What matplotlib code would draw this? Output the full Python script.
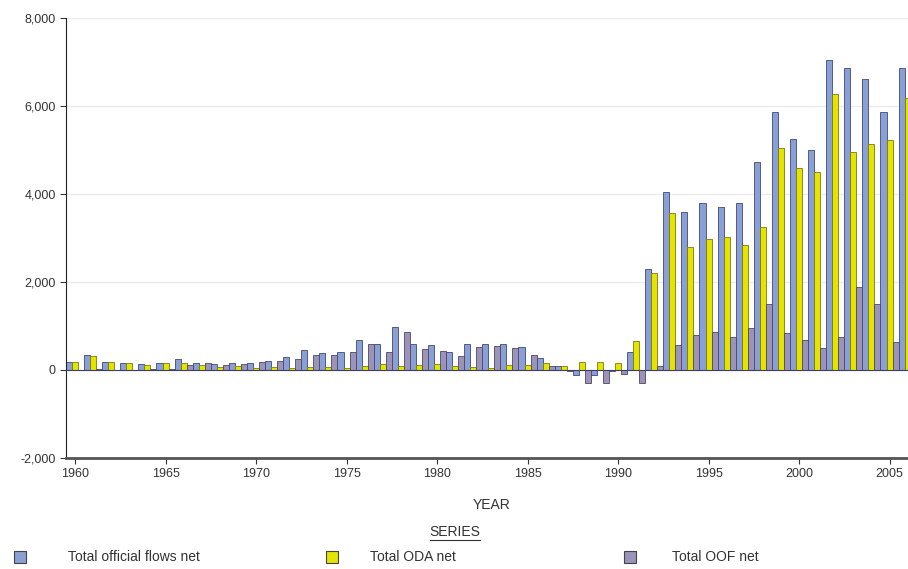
import matplotlib
matplotlib.use("Agg")
import matplotlib.pyplot as plt
from matplotlib.patches import Rectangle
from matplotlib.lines import Line2D

plt.rcParams['font.family'] = ['Liberation Sans', 'DejaVu Sans']

# datos (millones)
years = list(range(1960, 2007))
official_flows = [175, 340, 180, 165, 135, 170, 260, 160, 140, 160,
                  170, 200, 300, 460, 380, 420, 680, 580, 980, 600,
                  560, 420, 590, 590, 600, 520, 265, 80, -110, -110,
                  -30, 410, 2300, 4050, 3580, 3790, 3710, 3800, 4730, 5870,
                  5250, 4990, 7050, 6860, 6610, 5870, 6860]
oda = [190, 320, 175, 160, 115, 150, 150, 105, 75, 90,
       50, 60, 50, 70, 60, 40, 90, 130, 100, 110,
       130, 100, 60, 40, 110, 120, 150, 100, 190, 190,
       160, 670, 2200, 3560, 2800, 2970, 3020, 2840, 3260, 5050,
       4600, 4510, 6270, 4960, 5140, 5230, 6180]
oof = [10, 20, 10, 10, 20, 15, 110, 150, 110, 130,
       180, 200, 260, 340, 330, 400, 590, 420, 870, 470,
       430, 320, 530, 550, 490, 340, 90, -30, -300, -300,
       -80, -300, 80, 570, 795, 870, 760, 950, 1510, 850,
       680, 500, 760, 1890, 1510, 640, 620]

series_names = ['Total official flows net', 'Total ODA net', 'Total OOF net']
colores = ['#8a9fd6', '#e4e400', '#9c94b8']
bordes = ['#3c4a78', '#7a7a10', '#4e4860']

fig = plt.figure(figsize=(9.08, 5.69), dpi=100)
ax = fig.add_axes([66 / 908, 1 - 458 / 569, 1 - 66 / 908, 440 / 569])

w = 1 / 3
for i, vals in enumerate([official_flows, oda, oof]):
    xs = [y + (i - 1) * w for y in years]
    ax.bar(xs, vals, width=w, color=colores[i], edgecolor=bordes[i], linewidth=0.6)

ax.axhline(0, color='#3c4060', linewidth=0.8, zorder=3)

ax.set_xlim(1959.5, 2006.02)
ax.set_ylim(-2000, 8000)
ax.set_yticks([-2000, 0, 2000, 4000, 6000, 8000])
ax.set_yticklabels(['-2,000', '0', '2,000', '4,000', '6,000', '8,000'])
ax.set_xticks(list(range(1960, 2006, 5)))
ax.tick_params(labelsize=9, colors='#333333', length=4)
ax.grid(axis='y', color='#ececec', linewidth=1)
ax.set_axisbelow(True)

ax.spines['top'].set_visible(False)
ax.spines['right'].set_visible(False)
ax.spines['left'].set_color('#222222')
ax.spines['bottom'].set_color('#555555')
ax.spines['bottom'].set_linewidth(2)

# titulo del eje y leyenda
fig.text(492 / 908, 1 - 505 / 569, 'YEAR', ha='center', va='center', fontsize=10, color='#333333')
fig.text(455 / 908, 1 - 532 / 569, 'SERIES', ha='center', va='center', fontsize=10, color='#333333')
fig.add_artist(Line2D([430 / 908, 480 / 908], [1 - 540 / 569, 1 - 540 / 569],
                      color='#333333', linewidth=0.8, transform=fig.transFigure))

leg_x = [14, 326, 624]
txt_x = [68, 370, 672]
for i in range(3):
    fig.add_artist(Rectangle((leg_x[i] / 908, 1 - 563 / 569), 12 / 908, 12 / 569,
                             facecolor=colores[i], edgecolor='#444444', linewidth=0.8,
                             transform=fig.transFigure))
    fig.text(txt_x[i] / 908, 1 - 557 / 569, series_names[i], ha='left', va='center',
             fontsize=10, color='#333333')

plt.savefig('out.png', dpi=100)
